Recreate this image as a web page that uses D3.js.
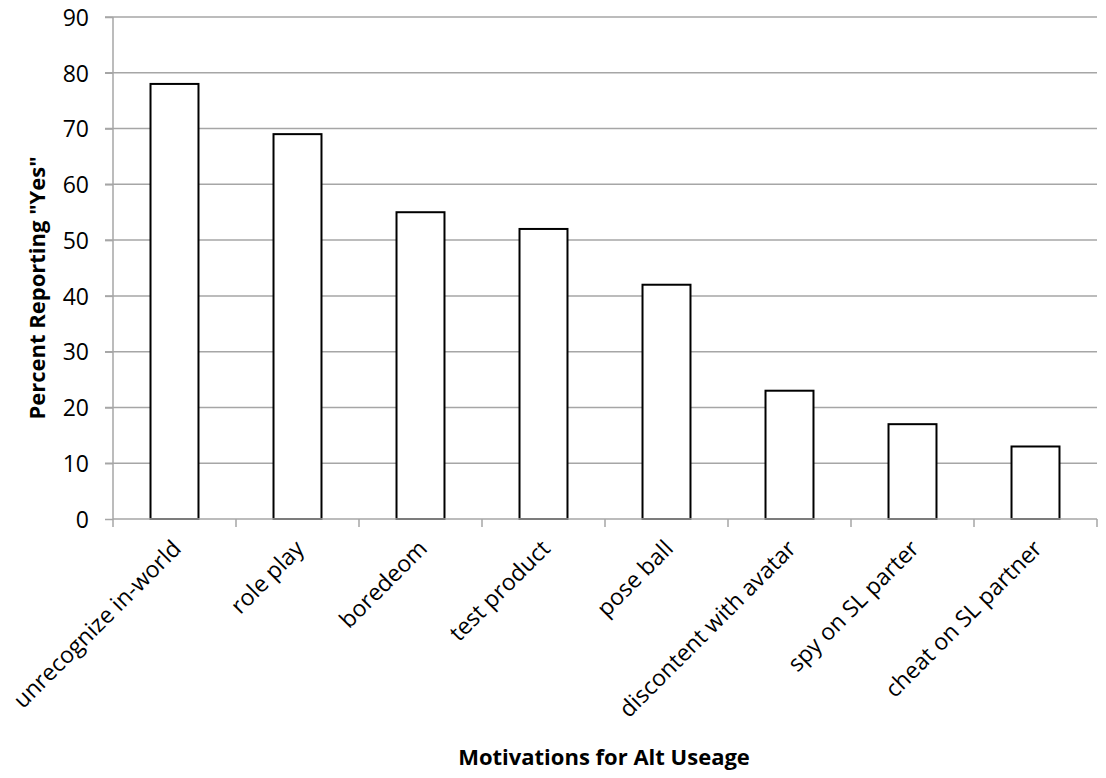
<!DOCTYPE html>
<html>
<head>
<meta charset="utf-8">
<script src="https://cdn.jsdelivr.net/npm/d3@7"></script>
<style>
  body { margin: 0; background: #fff; }
  svg text { font-family: "Open Sans", sans-serif; fill: #000; }
  .grid line { stroke: #a6a6a6; stroke-width: 1.5; }
  .axis path, .axis line { stroke: #a6a6a6; stroke-width: 1.5; }
  .axis text { font-size: 23px; }
  .bar { fill: #fff; stroke: #000; stroke-width: 2; }
  .title { font-size: 22px; font-weight: bold; }
</style>
</head>
<body>
<svg id="chart" width="1106" height="778"></svg>
<script>
var categories = ['unrecognize in-world', 'role play', 'boredeom', 'test product',
                  'pose ball', 'discontent with avatar', 'spy on SL parter', 'cheat on SL partner'];
var percentYes = [78, 69, 55, 52, 42, 23, 17, 13];
var yTicks = [0, 10, 20, 30, 40, 50, 60, 70, 80, 90];

var svg = d3.select('#chart');

var x0 = 113, x1 = 1097;   // plot left / right
var y0 = 519, y1 = 17;     // plot bottom / top

var x = d3.scaleBand().domain(categories).range([x0, x1]).paddingInner(0.61).paddingOuter(0.305);
var y = d3.scaleLinear().domain([0, 90]).range([y0, y1]);

// gridlines
svg.append('g').classed('grid', true)
    .selectAll('line')
    .data(yTicks.slice(1))
    .enter().append('line')
    .attr('x1', x0 - 8)
    .attr('x2', x1)
    .attr('y1', function(d) { return y(d); })
    .attr('y2', function(d) { return y(d); });

// y axis
var yAxis = svg.append('g').classed('axis', true)
    .attr('transform', 'translate(' + x0 + ',0)')
    .call(d3.axisLeft(y).tickValues(yTicks).tickSize(8).tickPadding(16));
yAxis.select('.domain').attr('d', 'M0,' + y0 + 'V' + y1);
yAxis.selectAll('text').attr('dy', '0.36em');

// bars
svg.selectAll('.bar')
    .data(percentYes)
    .enter().append('rect').classed('bar', true)
    .attr('x', function(d, i) { return x(categories[i]); })
    .attr('y', function(d) { return y(d); })
    .attr('width', x.bandwidth())
    .attr('height', function(d) { return y0 - y(d); });

// x axis: ticks at category boundaries
var xAxis = svg.append('g').classed('axis', true)
    .attr('transform', 'translate(0,' + y0 + ')');
xAxis.append('line').attr('x1', x0).attr('x2', x1).attr('y1', 0).attr('y2', 0);
var step = x.step();
xAxis.selectAll('.tk')
    .data(d3.range(categories.length + 1))
    .enter().append('line').classed('tk', true)
    .attr('x1', function(i) { return x0 + i * step; })
    .attr('x2', function(i) { return x0 + i * step; })
    .attr('y1', 0)
    .attr('y2', 8);

svg.selectAll('.xlabel')
    .data(categories)
    .enter().append('text').classed('xlabel', true)
    .attr('text-anchor', 'end')
    .style('font-size', '23px')
    .attr('transform', function(c) {
        return 'translate(' + (x(c) + x.bandwidth() / 2 + 8) + ',' + (y0 + 31) + ') rotate(-45)';
    })
    .text(function(c) { return c; });

// axis titles
svg.append('text').classed('title', true)
    .attr('text-anchor', 'middle')
    .attr('transform', 'translate(45,288) rotate(-90)')
    .text('Percent Reporting "Yes"');

svg.append('text').classed('title', true)
    .attr('text-anchor', 'middle')
    .attr('x', 604)
    .attr('y', 765)
    .text('Motivations for Alt Useage');
</script>
</body>
</html>
